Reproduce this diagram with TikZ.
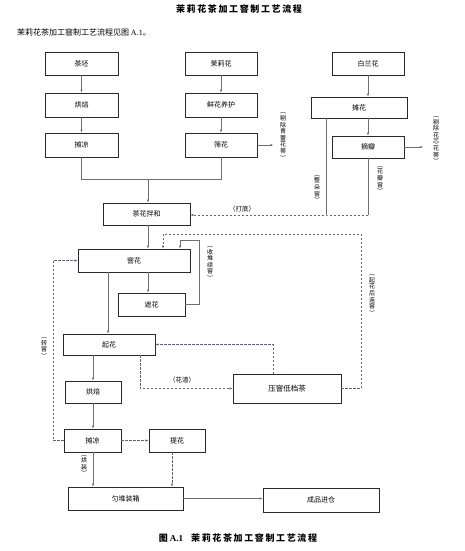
\documentclass[tikz,border=0pt]{standalone}
\usepackage{fontspec}
\setmainfont{Liberation Serif}
\newfontfamily\cjk{Noto Sans CJK SC}
\usetikzlibrary{arrows.meta}
\definecolor{dashc}{RGB}{95,100,140}
\definecolor{boxc}{RGB}{40,40,50}
\definecolor{linec}{RGB}{110,110,115}
\tikzset{
  box/.style={draw=boxc, line width=0.6pt, inner sep=0pt, font=\cjk\fontsize{7}{8}\selectfont},
  wh/.style 2 args={minimum width=#1pt, minimum height=#2pt},
  conn/.style={draw=linec, line width=0.5pt},
  arr/.style={-{Latex[length=3pt,width=2.2pt]}},
  dsh/.style={draw=dashc, line width=0.5pt, dash pattern=on 2.5pt off 1.5pt},
  vlab/.style={align=center, inner sep=0pt, font=\cjk\fontsize{6}{6.6}\selectfont},
  hlab/.style={inner sep=0pt, font=\cjk\fontsize{6.5}{7}\selectfont},
}
\begin{document}
\begin{tikzpicture}[x=1pt,y=-1pt]
\useasboundingbox (0,0) rectangle (464,551);
% titles
\node[inner sep=0pt, font=\cjk\bfseries\fontsize{9}{10}\selectfont\addfontfeatures{LetterSpace=18}] (title) at (239,9) {茉莉花茶加工窨制工艺流程};
\node[inner sep=0pt, anchor=west, font=\cjk\fontsize{8}{9}\selectfont] (intro) at (17,32) {茉莉花茶加工窨制工艺流程见图 {\rmfamily A.1}。};
\node[inner sep=0pt, font=\cjk\bfseries\fontsize{9}{10}\selectfont] (caption) at (238,538) {图 {\rmfamily\bfseries A.1}\hspace{8pt}{\addfontfeatures{LetterSpace=18}茉莉花茶加工窨制工艺流程}};

% boxes
\node[box, wh={73}{23}] (chapi) at (81.5,63.5) {茶坯};
\node[box, wh={73}{24}] (hongbei1) at (81.5,105) {烘焙};
\node[box, wh={73}{24}] (tanliang1) at (81.5,145) {摊凉};
\node[box, wh={72}{23}] (molihua) at (221,63.5) {茉莉花};
\node[box, wh={72}{24}] (yanghu) at (221,105) {鲜花养护};
\node[box, wh={72}{24}] (shaihua) at (221,145) {筛花};
\node[box, wh={72}{23}] (bailan) at (368,63.5) {白兰花};
\node[box, wh={96}{21}] (tanhua) at (359,107.5) {摊花};
\node[box, wh={72}{22}] (zhaiban) at (368,147) {摘瓣};
\node[box, wh={87}{22}] (banhe) at (146.5,214) {茶花拌和};
\node[box, wh={112}{23}] (yinhua) at (134,260.5) {窨花};
\node[box, wh={67}{23}] (zhehua) at (151.5,304.5) {遮花};
\node[box, wh={92}{21}] (qihua) at (109,344.5) {起花};
\node[box, wh={108}{29}, font=\cjk\fontsize{7.5}{8}\selectfont] (yayin) at (287,388.5) {压窨低档茶};
\node[box, wh={56}{22}] (hongbei2) at (93,392) {烘焙};
\node[box, wh={57}{23}] (tanliang2) at (92.5,440.5) {摊凉};
\node[box, wh={56}{23}] (tihua) at (177,440.5) {提花};
\node[box, wh={115}{23}] (yundui) at (125.5,498.5) {匀堆装箱};
\node[box, wh={116}{24}] (chengpin) at (321,500) {成品进仓};

% top solid flows
\draw[conn,arr] (chapi) -- (hongbei1);
\draw[conn,arr] (hongbei1) -- (tanliang1);
\draw[conn,arr] (molihua) -- (yanghu);
\draw[conn,arr] (yanghu) -- (shaihua);
\draw[conn,arr] (bailan) -- (bailan |- tanhua.north);
\draw[conn,arr] (bailan |- tanhua.south) -- (zhaiban);
\coordinate (j1) at (81.5,179);
\coordinate (j2) at (221,179);
\coordinate (j3) at (148,179);
\draw[conn] (tanliang1) -- (j1) -- (j2) -- (shaihua);
\draw[conn,arr] (j3) -- (j3 |- banhe.north);
\draw[conn,arr] (shaihua.east) -- ++(16,0) coordinate (e1);
\draw[conn,arr] (zhaiban.east) -- ++(19,0) coordinate (e2);
\node[vlab] (lb1) at (283,136.5) {︵\\剔\\除\\青\\蕾\\花\\蒂\\︶};
\node[vlab] (lb2) at (436,140) {︵\\剔\\除\\花\\芯\\花\\蒂\\︶};

% 打底
\coordinate (d1) at (326,215);
\coordinate (d2) at (368,215);
\draw[conn] (d1 |- tanhua.south) -- (d1);
\draw[conn] (d2 |- zhaiban.south) -- (d2);
\draw[dsh,arr] (d2) -- (d1) -- (d1 -| banhe.east);
\node[vlab] (lb3) at (317,189) {︵\\整\\朵\\窨\\︶};
\node[vlab] (lb4) at (380,180) {︵\\花\\瓣\\窨\\︶};
\node[hlab] (lb5) at (242,209) {（打底）};

% 窨花 area
\draw[conn,arr] (j3 |- banhe.south) -- (j3 |- yinhua.north);
\draw[conn,arr] (j3 |- yinhua.south) -- (j3 |- zhehua.north);
\coordinate (s1) at (199,240);
\coordinate (s2) at (180,240);
\draw[conn,arr] (zhehua.east) -| (s1) -- (s2) -- (s2 |- yinhua.north);
\node[vlab] (lb6) at (210,263.5) {︵\\收\\堆\\续\\窨\\︶};

\coordinate (r1) at (361,234);
\coordinate (r2) at (163,234);
\draw[dsh,arr] (yayin.east) -| (r1) -- (r2) -- (r2 |- yinhua.north);
\node[vlab] (lb7) at (372,295) {︵\\起\\花\\后\\连\\窨\\︶};

\coordinate (z1) at (53,260.5);
\draw[dsh,arr] (tanliang2.west) -| (z1) -- (yinhua.west);
\node[vlab] (lb8) at (44,348) {︵\\转\\窨\\︶};

% 起花 area
\coordinate (q1) at (108,272);
\draw[conn,arr] (q1) -- (q1 |- qihua.north);
\coordinate (h1) at (140,355);
\draw[dsh,arr] (h1) |- (yayin.west);
\node[hlab] (lb9) at (182,380) {（花渣）};
\coordinate (p1) at (273,374);
\draw[dsh,arr] (p1) |- (qihua.east);

\draw[conn,arr] (hongbei2 |- qihua.south) -- (hongbei2.north);
\draw[conn,arr] (hongbei2.south) -- (hongbei2.south |- tanliang2.north);
\draw[conn,arr] (hongbei2 |- tanliang2.south) -- (hongbei2 |- yundui.north);
\node[vlab] (lb10) at (84,465.5) {︵\\烘\\装\\︶};

\draw[dsh,arr] (tanliang2.east) -- (tihua.west);
\coordinate (t1) at (172,452);
\draw[dsh,arr] (t1) -- (t1 |- yundui.north);
\draw[conn,arr] (yundui.east) -- (yundui.east -| chengpin.west);
\end{tikzpicture}
\end{document}
